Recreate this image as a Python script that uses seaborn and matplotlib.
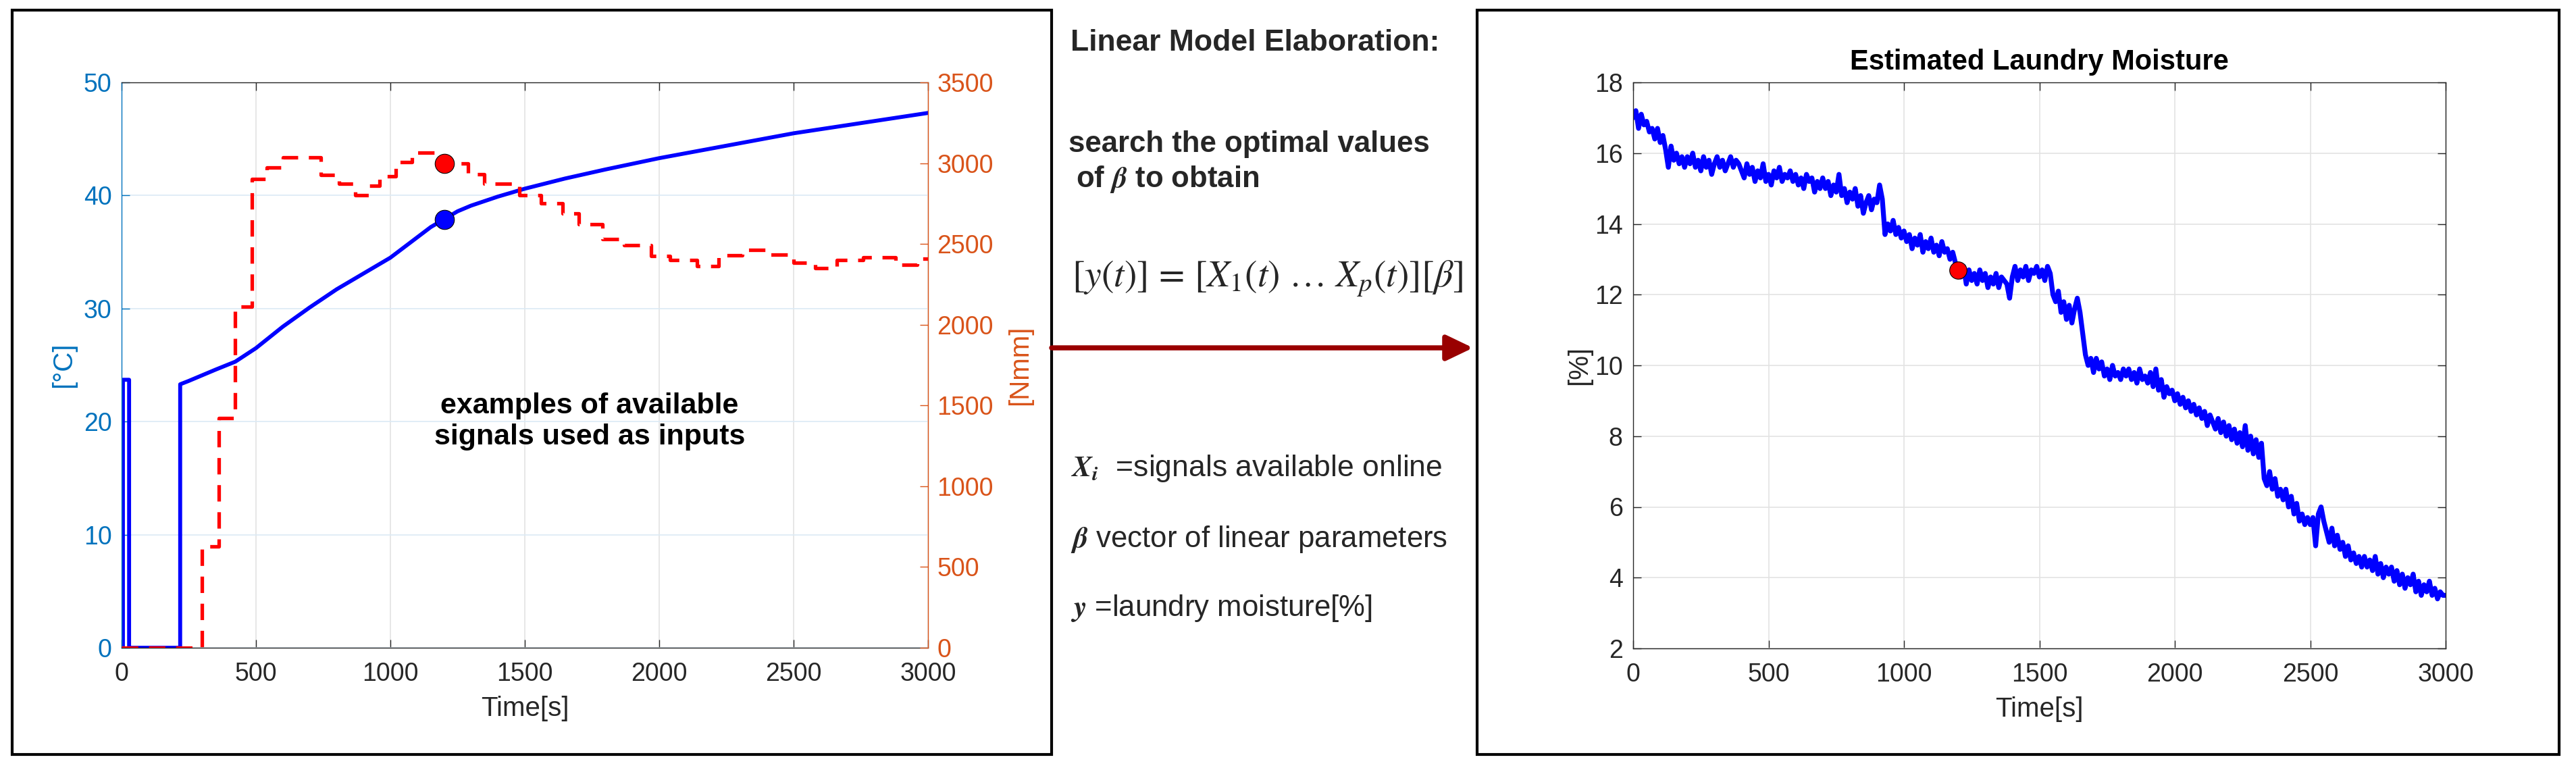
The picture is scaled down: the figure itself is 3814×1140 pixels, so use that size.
import matplotlib
matplotlib.use("Agg")
import numpy as np
import pandas as pd
import matplotlib.pyplot as plt
import seaborn as sns
from matplotlib.patches import Rectangle, FancyArrowPatch

# ---- left panel: drum temperature [degC] and motor torque [Nmm]
temp_time = [0, 5, 5, 28, 28, 218, 218, 250, 300, 350, 423, 500, 600, 700, 800,
             900, 1000, 1050, 1100, 1150, 1200, 1250, 1300, 1400, 1500, 1650,
             1800, 2000, 2250, 2500, 2750, 3000]
temp_val = [0, 0, 23.7, 23.7, 0, 0, 23.3, 23.6, 24.1, 24.6, 25.3, 26.5, 28.4,
            30.1, 31.7, 33.1, 34.5, 35.4, 36.3, 37.2, 37.9, 38.6, 39.1, 39.9,
            40.6, 41.5, 42.3, 43.3, 44.4, 45.5, 46.4, 47.3]

torque_time = [0, 300, 362, 423, 484, 540, 600, 740, 810, 870, 920, 960, 1020,
               1080, 1180, 1290, 1350, 1480, 1560, 1640, 1700, 1790, 1870, 1970,
               2040, 2140, 2220, 2310, 2400, 2500, 2580, 2660, 2760, 2880, 2960,
               3000]
torque_val = [0, 628, 1421, 2113, 2900, 2975, 3035, 2927, 2872, 2800, 2860, 2920,
              3005, 3064, 3000, 2930, 2872, 2800, 2750, 2690, 2620, 2530, 2494,
              2424, 2402, 2364, 2430, 2462, 2434, 2385, 2348, 2402, 2418, 2370,
              2410, 2410]

# highlighted sample
mark_time = 1200
mark_temp = 37.9
mark_torque = 3000
mark_moist = 12.7

# ---- right panel: estimated laundry moisture [%], one value every 10 s
moist_time = list(range(0, 3001, 10))
moist_val = [
    17.0, 17.2, 16.7, 17.1, 16.8, 16.9, 16.6, 16.7, 16.4, 16.7,
    16.3, 16.5, 16.1, 15.6, 16.2, 15.8, 16.0, 15.7, 15.9, 15.6,
    15.9, 15.7, 16.0, 15.6, 15.8, 15.5, 15.9, 15.6, 15.8, 15.4,
    15.7, 15.9, 15.6, 15.8, 15.5, 15.7, 15.9, 15.6, 15.8, 15.7,
    15.5, 15.3, 15.7, 15.4, 15.6, 15.2, 15.5, 15.3, 15.7, 15.2,
    15.4, 15.1, 15.5, 15.3, 15.6, 15.2, 15.4, 15.3, 15.5, 15.2,
    15.4, 15.1, 15.3, 15.0, 15.4, 15.2, 15.3, 14.9, 15.2, 15.0,
    15.3, 15.0, 15.2, 14.8, 15.1, 14.9, 15.4, 14.8, 15.0, 14.6,
    14.9, 14.7, 15.0, 14.5, 14.8, 14.3, 14.6, 14.8, 14.4, 14.7,
    14.6, 15.1, 14.7, 13.7, 14.0, 13.8, 14.1, 13.7, 13.9, 13.6,
    13.8, 13.5, 13.7, 13.3, 13.6, 13.4, 13.7, 13.2, 13.5, 13.3,
    13.6, 13.2, 13.4, 13.1, 13.5, 13.2, 13.3, 13.0, 13.2, 12.9,
    12.7, 12.5, 12.8, 12.3, 12.7, 12.4, 12.6, 12.3, 12.7, 12.4,
    12.6, 12.2, 12.5, 12.3, 12.6, 12.2, 12.5, 12.4, 12.3, 11.9,
    12.5, 12.8, 12.4, 12.7, 12.5, 12.8, 12.4, 12.7, 12.6, 12.8,
    12.5, 12.7, 12.4, 12.8, 12.6, 12.0, 11.8, 12.1, 11.5, 11.8,
    11.3, 11.7, 11.2, 11.6, 11.9, 11.5, 10.9, 10.3, 10.0, 10.2,
    9.8, 10.2, 9.9, 10.1, 9.7, 9.9, 9.6, 10.0, 9.7, 9.8,
    9.6, 9.9, 9.7, 9.9, 9.6, 9.8, 9.5, 9.9, 9.6, 9.7,
    9.5, 9.8, 9.4, 9.9, 9.3, 9.6, 9.1, 9.4, 9.2, 9.3,
    9.0, 9.2, 8.9, 9.1, 8.8, 9.0, 8.7, 8.9, 8.6, 8.8,
    8.5, 8.7, 8.3, 8.6, 8.4, 8.2, 8.5, 8.1, 8.4, 8.0,
    8.3, 7.9, 8.2, 7.8, 8.1, 7.7, 8.3, 7.6, 8.0, 7.5,
    7.9, 7.4, 7.8, 6.8, 6.6, 7.0, 6.5, 6.8, 6.3, 6.5,
    6.2, 6.5, 6.0, 6.3, 5.8, 6.1, 5.6, 5.8, 5.5, 5.7,
    5.5, 5.7, 4.9, 5.8, 6.0, 5.6, 5.3, 5.0, 5.4, 4.9,
    5.2, 4.8, 5.0, 4.6, 4.9, 4.5, 4.7, 4.4, 4.6, 4.3,
    4.6, 4.3, 4.5, 4.2, 4.6, 4.1, 4.4, 4.0, 4.3, 4.1,
    4.3, 3.9, 4.2, 3.8, 4.1, 3.7, 4.0, 3.8, 4.1, 3.6,
    3.9, 3.5, 3.8, 3.6, 3.9, 3.5, 3.7, 3.4, 3.6, 3.5,
    3.5,
]

time_ticks = [0, 500, 1000, 1500, 2000, 2500, 3000]
temp_ticks = [0, 10, 20, 30, 40, 50]
torque_ticks = [0, 500, 1000, 1500, 2000, 2500, 3000, 3500]
moist_ticks = [2, 4, 6, 8, 10, 12, 14, 16, 18]

BLUE_AX = '#0072BD'
ORANGE_AX = '#D95319'
DARK = '#262626'
LINE_BLUE = '#0000FF'
LINE_RED = '#FF0000'

sns.set_theme(style="white")
plt.rcParams['font.family'] = ['Liberation Sans', 'DejaVu Sans']

W, H = 3814, 1140
fig = plt.figure(figsize=(W / 100, H / 100), dpi=100)
fig.patch.set_facecolor('white')


def px(x, y):
    # pixel (from top-left) -> figure fraction
    return x / W, 1 - y / H


def style_ticks(a, axis, color, pad, **kw):
    a.tick_params(axis=axis, colors=color, direction='in', length=8.6,
                  width=1.0, labelsize=27, pad=pad, **kw)


# ================= left panel =================
ax = fig.add_axes([180 / W, 1 - 959 / H, (1374 - 180) / W, (959 - 122) / H])
ax2 = ax.twinx()

sns.lineplot(x=temp_time, y=temp_val, estimator=None, sort=False, ax=ax,
             color=LINE_BLUE, linewidth=4.2)
sns.lineplot(x=torque_time, y=torque_val, estimator=None, sort=False, ax=ax2,
             color=LINE_RED, linewidth=3.8, drawstyle='steps-post',
             linestyle=(0, (4.6, 3.0)))
sns.scatterplot(x=[mark_time], y=[mark_temp], ax=ax, s=420, color=LINE_BLUE,
                edgecolor='black', linewidth=0.8, zorder=5)
sns.scatterplot(x=[mark_time], y=[mark_torque], ax=ax2, s=420, color=LINE_RED,
                edgecolor='black', linewidth=0.8, zorder=5)

ax.set_xlim(0, 3000)
ax.set_ylim(0, 50)
ax2.set_ylim(0, 3500)
ax.set_xticks(time_ticks)
ax.set_yticks(temp_ticks)
ax2.set_yticks(torque_ticks)

style_ticks(ax, 'x', DARK, 15, top=True, bottom=True)
style_ticks(ax, 'y', BLUE_AX, 10.5, left=True, right=False)
style_ticks(ax2, 'y', ORANGE_AX, 9.5, left=False, right=True)

for s in ['top', 'bottom']:
    ax.spines[s].set_color(DARK)
    ax.spines[s].set_linewidth(1.0)
ax.spines['left'].set_color(BLUE_AX)
ax.spines['left'].set_linewidth(1.0)
ax.spines['right'].set_visible(False)
for s in ['left', 'top', 'bottom']:
    ax2.spines[s].set_visible(False)
ax2.spines['right'].set_color(ORANGE_AX)
ax2.spines['right'].set_linewidth(1.0)

ax.set_axisbelow(True)
ax.xaxis.grid(True, color='#E3E3E3', lw=1.2)
ax.yaxis.grid(True, color='#DCEAF5', lw=1.2)

ax.set_xlabel('Time[s]', fontsize=29, color=DARK)
ax.set_ylabel('[°C]', fontsize=29, color=BLUE_AX)
ax2.set_ylabel('[Nmm]', fontsize=29, color=ORANGE_AX)
ax.xaxis.set_label_coords(0.5, -0.085)
ax.yaxis.set_label_coords(-0.056, 0.5)
ax2.yaxis.set_label_coords(1.098, 0.5)

ax.text(1741, 20, 'examples of available\nsignals used as inputs',
        ha='center', va='center', fontsize=31, fontweight='bold',
        linespacing=1.2, color='black')

# ================= right panel =================
ax3 = fig.add_axes([2418 / W, 1 - 960 / H, (3621 - 2418) / W, (960 - 122) / H])
sns.lineplot(x=moist_time, y=moist_val, estimator=None, sort=False, ax=ax3,
             color=LINE_BLUE, linewidth=5.2)
sns.scatterplot(x=[mark_time], y=[mark_moist], ax=ax3, s=340, color=LINE_RED,
                edgecolor='black', linewidth=0.8, zorder=5)
ax3.set_xlim(0, 3000)
ax3.set_ylim(2, 18)
ax3.set_xticks(time_ticks)
ax3.set_yticks(moist_ticks)
style_ticks(ax3, 'x', DARK, 15, top=True, bottom=True)
style_ticks(ax3, 'y', DARK, 11, left=True, right=True)
for s in ax3.spines.values():
    s.set_color(DARK)
    s.set_linewidth(1.0)
ax3.set_axisbelow(True)
ax3.grid(True, color='#E3E3E3', lw=1.2)
ax3.set_title('Estimated Laundry Moisture', fontsize=30, fontweight='bold',
              pad=14, color='black')
ax3.set_xlabel('Time[s]', fontsize=29, color=DARK)
ax3.set_ylabel('[%]', fontsize=29, color=DARK)
ax3.xaxis.set_label_coords(0.5, -0.085)
ax3.yaxis.set_label_coords(-0.051, 0.5)

# ================= middle annotations =================
fig.text(*px(1585, 75), 'Linear Model Elaboration:', fontsize=32,
         fontweight='bold', va='baseline', ha='left')
fig.text(*px(1582, 225), 'search the optimal values', fontsize=31.5,
         fontweight='bold', va='baseline', ha='left')
fig.text(*px(1593, 277), r'of $\mathbfit{\beta}$ to obtain', fontsize=31.5,
         fontweight='bold', va='baseline', ha='left', math_fontfamily='stix')
fig.text(*px(1587, 425), r'$[y(t)]\,=\,[X_1(t)\ \ldots\ X_p(t)][\beta]$',
         fontsize=40, va='baseline', ha='left', math_fontfamily='stix')
fig.text(*px(1585, 705), r'$\mathbfit{X}_{\mathbfit{i}}$  =signals available online',
         fontsize=32, va='baseline', ha='left', math_fontfamily='stix')
fig.text(*px(1585, 810), r'$\mathbfit{\beta}$ vector of linear parameters',
         fontsize=31.5, va='baseline', ha='left', math_fontfamily='stix')
fig.text(*px(1585, 912), r'$\mathbfit{y}$ =laundry moisture[%]',
         fontsize=31.5, va='baseline', ha='left', math_fontfamily='stix')

# frames around the two panels
for (x0, y0, x1, y1) in [(18, 15, 1557, 1117), (2187, 15, 3789, 1117)]:
    fig.add_artist(Rectangle(px(x0, y1), (x1 - x0) / W, (y1 - y0) / H,
                             transform=fig.transFigure, fill=False,
                             ec='black', lw=3))

arrow = FancyArrowPatch(px(1557, 515), px(2181, 515), transform=fig.transFigure,
                        arrowstyle='-|>,head_length=24,head_width=11.5',
                        mutation_scale=1, lw=5.4, color='#990000',
                        shrinkA=0, shrinkB=0, joinstyle='round')
fig.add_artist(arrow)

fig.savefig('out.png', dpi=100, facecolor='white')
